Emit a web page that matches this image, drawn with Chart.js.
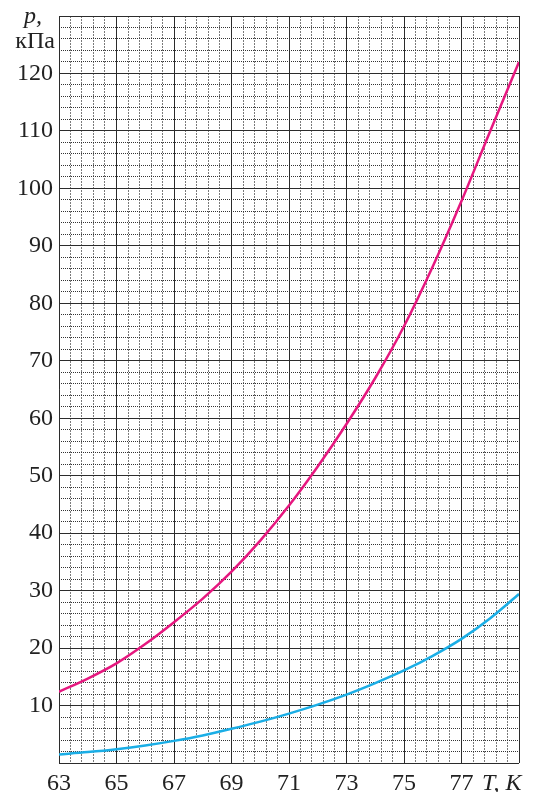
<!DOCTYPE html>
<html>
<head>
<meta charset="utf-8">
<script src="https://cdn.jsdelivr.net/npm/chart.js@4/dist/chart.umd.min.js"></script>
<style>
  html, body { margin: 0; padding: 0; background: #fff; }
  #wrap { position: relative; width: 536px; height: 792px; }
</style>
</head>
<body>
<div id="wrap"><canvas id="myChart"></canvas></div>
<script>
// temperature, K
const temps = [63, 64, 65, 66, 67, 68, 69, 70, 71, 72, 73, 74, 75, 76, 77, 78, 79];
// upper (magenta) curve, kPa
const upperP = [12.4, 14.7, 17.35, 20.7, 24.5, 28.6, 33.3, 38.7, 44.8, 51.6, 59.0, 67.0, 76.0, 86.4, 97.8, 110.0, 122.0];
// lower (cyan) curve, kPa
const lowerP = [1.5, 1.9, 2.4, 3.05, 3.85, 4.8, 5.95, 7.2, 8.6, 10.15, 11.9, 13.9, 16.1, 18.65, 21.6, 25.2, 29.4];

const xTicks = [63, 65, 67, 69, 71, 73, 75, 77];
const yTicks = [10, 20, 30, 40, 50, 60, 70, 80, 90, 100, 110, 120];

const serif = "'Liberation Serif', 'DejaVu Serif', serif";
const colors = {
    magenta: "#e6177f",
    cyan: "#1aaee6",
    major: "#2b2b2b",
    minorX: "#7a7a7a",
    minorY: "#333333"
};

const toPoints = (ys) => temps.map((t, i) => ({ x: t, y: ys[i] }));

// keep tick labels from pushing the plot area inwards
const noOverflow = (scale) => {
    scale.paddingTop = 0;
    scale.paddingBottom = 0;
    scale.paddingLeft = 0;
    scale.paddingRight = 0;
};

const axisLabels = {
    id: "axisLabels",
    afterDraw(chart) {
        const ctx = chart.ctx;
        const area = chart.chartArea;
        ctx.save();
        ctx.fillStyle = "#222";
        ctx.textBaseline = "alphabetic";
        ctx.font = "italic 24px " + serif;
        ctx.textAlign = "left";
        ctx.fillText("p,", 24, 23);
        ctx.font = "24px " + serif;
        ctx.textAlign = "right";
        ctx.fillText("кПа", area.left - 4, 48);
        ctx.font = "italic 24px " + serif;
        ctx.textAlign = "left";
        ctx.fillText("T, K", area.right - 37, chart.height - 2);
        ctx.restore();
    }
};

const ctx = document.getElementById("myChart").getContext("2d");

new Chart(ctx, {
    type: "line",
    data: {
        datasets: [
            {
                data: toPoints(upperP),
                borderColor: colors.magenta,
                borderWidth: 2.5,
                pointRadius: 0,
                cubicInterpolationMode: "monotone",
                fill: false
            },
            {
                data: toPoints(lowerP),
                borderColor: colors.cyan,
                borderWidth: 2.5,
                pointRadius: 0,
                cubicInterpolationMode: "monotone",
                fill: false
            }
        ]
    },
    options: {
        responsive: true,
        maintainAspectRatio: false,
        animation: false,
        layout: { padding: { left: 0, top: 16, right: 17, bottom: 0 } },
        plugins: {
            legend: { display: false },
            tooltip: { enabled: false }
        },
        scales: {
            xMinor: {
                type: "linear",
                position: "bottom",
                min: 63,
                max: 79,
                ticks: { display: false, stepSize: 0.4 },
                grid: { color: colors.minorX, lineWidth: 1, drawTicks: false, z: -2 },
                border: { display: false, dash: [2, 1] },
                afterFit(scale) { scale.height = 0; noOverflow(scale); }
            },
            yMinor: {
                type: "linear",
                position: "left",
                min: 0,
                max: 130,
                ticks: { display: false, stepSize: 2 },
                grid: { color: colors.minorY, lineWidth: 1, drawTicks: false, z: -2 },
                border: { display: false, dash: [1, 1] },
                afterFit(scale) { scale.width = 0; noOverflow(scale); }
            },
            x: {
                type: "linear",
                position: "bottom",
                min: 63,
                max: 79,
                afterBuildTicks(scale) {
                    scale.ticks = xTicks.concat([79]).map(v => ({ value: v }));
                },
                ticks: {
                    autoSkip: false,
                    maxRotation: 0,
                    padding: 6,
                    color: "#222",
                    font: { family: serif, size: 24 },
                    callback: (v) => xTicks.includes(v) ? String(v) : ""
                },
                grid: { color: colors.major, lineWidth: 1, drawTicks: false, z: -1 },
                border: { display: false },
                afterFit(scale) { scale.height = 29; noOverflow(scale); }
            },
            y: {
                type: "linear",
                position: "left",
                min: 0,
                max: 130,
                afterBuildTicks(scale) {
                    scale.ticks = [0].concat(yTicks, [130]).map(v => ({ value: v }));
                },
                ticks: {
                    autoSkip: false,
                    padding: 6,
                    color: "#222",
                    font: { family: serif, size: 24 },
                    callback: (v) => yTicks.includes(v) ? String(v) : ""
                },
                grid: { color: colors.major, lineWidth: 1, drawTicks: false, z: -1 },
                border: { display: false },
                afterFit(scale) { scale.width = 59; noOverflow(scale); }
            }
        }
    },
    plugins: [axisLabels]
});
</script>
</body>
</html>
